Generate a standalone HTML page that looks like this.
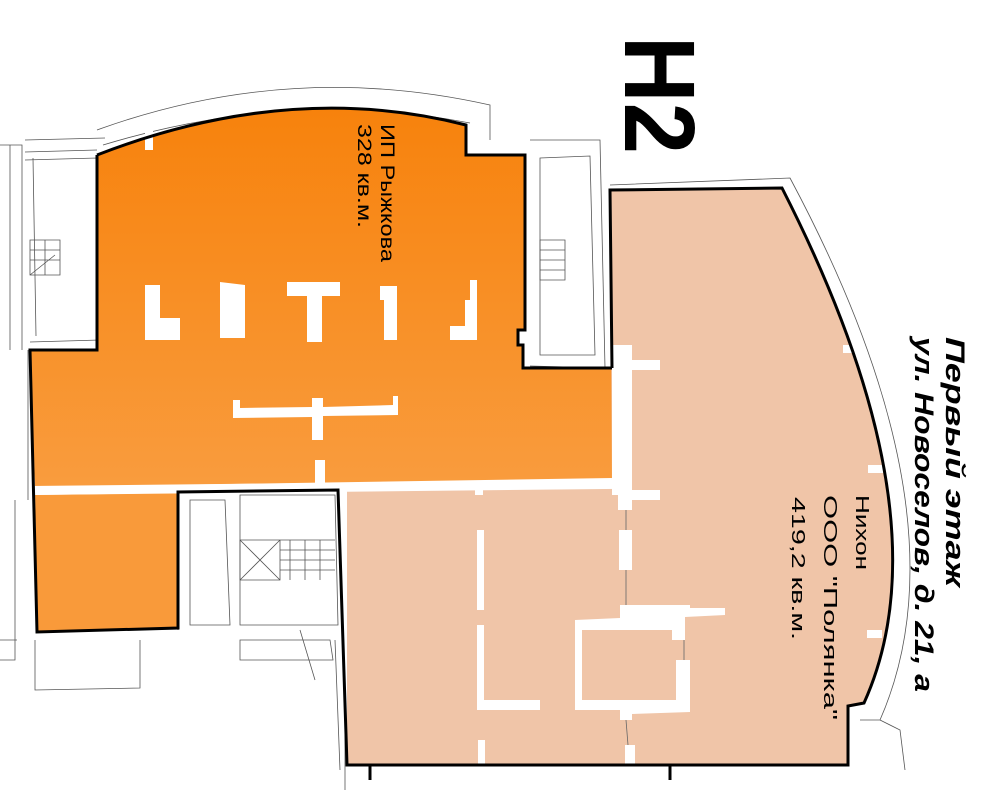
<!DOCTYPE html>
<html><head><meta charset="utf-8"><style>html,body{margin:0;padding:0;background:#fff}svg{display:block}</style></head>
<body>
<svg width="1000" height="800" viewBox="0 0 1000 800" xmlns="http://www.w3.org/2000/svg" font-family="'Liberation Sans', sans-serif">
<defs>
<linearGradient id="og" x1="0" y1="0" x2="0" y2="1"><stop offset="0" stop-color="#f7820c"/><stop offset="1" stop-color="#f99c3e"/></linearGradient>
</defs>
<g fill="none" stroke="#555" stroke-width="0.8">
<path d="M0 145 L22 145 L22 350 M10 145 L10 350"/>
<path d="M25 140 L105 138 M25 152 L97 150 M25 160 L97 158 L100 340 L30 342 M33 158 L36 336"/>
<path d="M97 130 Q290 60 490 105 L490 140 M103 145 Q290 88 470 123"/>
<path d="M530 140 L600 140 L605 368 L530 366 M540 158 L590 156 L595 355 L540 355 Z"/>
<path d="M610 185 L790 178 Q970 515 880 720 L860 720 M880 720 L900 730 L905 770"/>
<path d="M28 350 L28 500 M15 500 L15 660 L0 660 M0 640 L17 640 M35 640 L35 690 L140 688 L140 640"/>
<path d="M178 492 L178 630 M190 500 L225 500 L230 625 L190 625 Z M240 495 L335 495 L338 625 L240 625 Z"/>
<path d="M240 540 L280 540 L280 580 L240 580 Z M240 540 L280 580 M280 540 L240 580 M280 540 L335 540 M280 550 L335 550 M280 560 L335 560 M280 570 L335 570 M290 540 L290 580 M305 540 L305 580 M320 540 L320 580"/>
<path d="M240 640 L330 640 L333 660 L240 660 Z M300 630 L315 680 M335 640 L340 770 M345 720 L345 790"/>
<path d="M30 240 L60 240 L60 275 L30 275 Z M30 250 L60 250 M30 260 L60 260 M45 240 L45 275 M30 275 L55 255"/>
<path d="M540 240 L565 240 L565 280 L540 280 Z M540 250 L565 250 M540 260 L565 260 M540 270 L565 270"/>
</g>
<path d="M97 155 Q290 80 466 125 L466 155 L525 155 L525 330 L518 330 L518 345 L523 345 L523 368 L612 368 L612 478 L35 487 L30 350 L97 350 Z" fill="url(#og)"/>
<path d="M35 495 L178 493 L178 628 L38 632 Z" fill="#f99a3a"/>
<path d="M610 190 L782 188 Q949 515 864 703 L848 706 L848 765 L347 765 L347 490 L612 488 Z" fill="#f0c5a8"/>
<g fill="#fff">
<rect x="30" y="483" width="600" height="9" transform="rotate(-0.6 320 488)"/>
<rect x="612" y="345" width="20" height="150"/>
<rect x="315" y="460" width="10" height="25"/>
<rect x="145" y="128" width="8" height="22"/>
<path d="M145 285 L160 285 L160 318 L180 318 L180 340 L145 340 Z"/>
<path d="M220 282 L245 285 L245 338 L220 338 Z"/>
<path d="M287 282 L340 282 L340 296 L322 296 L322 342 L307 342 L307 296 L287 296 Z"/>
<path d="M380 286 L397 286 L397 340 L384 340 L384 300 L380 300 Z"/>
<path d="M470 280 L477 280 L477 340 L450 340 L450 326 L465 326 L465 300 L470 300 Z"/>
<path d="M233 400 L240 400 L240 408 L312 407 L312 398 L323 398 L323 407 L393 405 L393 396 L398 396 L398 415 L323 416 L323 440 L312 440 L312 417 L233 418 Z"/>
<path d="M618 350 L630 350 L630 360 L660 360 L660 370 L632 370 L632 470 L628 470 L628 490 L660 490 L660 500 L632 500 L632 510 L618 510 Z"/>
<rect x="475" y="485" width="8" height="10"/>
<rect x="477" y="530" width="7" height="80"/>
<path d="M477 625 L484 625 L484 700 L540 700 L540 710 L477 710 Z"/>
<rect x="478" y="740" width="7" height="25"/>
<rect x="619" y="530" width="13" height="40"/>
<path d="M575 620 L620 618 L620 605 L690 605 L690 608 L725 608 L725 615 L685 617 L685 640 L672 640 L672 630 L582 630 L582 700 L676 700 L676 660 L690 660 L690 712 L632 714 L632 720 L620 720 L620 710 L575 710 Z"/>
<rect x="625" y="745" width="10" height="20"/>
<rect x="843" y="345" width="15" height="8"/>
<rect x="868" y="465" width="15" height="8"/>
<rect x="867" y="630" width="15" height="8"/>
</g>
<g stroke="#666" stroke-width="0.8" fill="none">
<path d="M626 510 L626 530 M626 570 L626 605 M626 720 L628 745 M684 640 L684 660"/>
</g>
<g fill="none" stroke="#000" stroke-width="3">
<path d="M97 155 Q290 80 466 125 L466 155 L525 155 L525 330 L518 330 L518 345 L523 345 L523 368 L612 368"/>
<path d="M97 155 L97 350 L30 350 L37 632 L178 628 L178 492 L338 490 L347 765 L670 765 L670 780 M670 765 L848 765 L848 706 L864 703 Q949 515 782 188 L610 190 L612 368"/>
<path d="M347 765 L370 765 L370 780"/>
</g>
<g fill="#000">
<text transform="translate(625,36) rotate(90)" font-size="100" font-weight="bold" textLength="118" lengthAdjust="spacingAndGlyphs">H2</text>
<text transform="translate(946,337) rotate(90)" font-size="27" font-weight="bold" font-style="italic" textLength="250" lengthAdjust="spacingAndGlyphs">Первый этаж</text>
<text transform="translate(915,337) rotate(90)" font-size="27" font-weight="bold" font-style="italic" textLength="355" lengthAdjust="spacingAndGlyphs">ул. Новоселов, д. 21, а</text>
<text transform="translate(381,124) rotate(90)" font-size="19" textLength="138" lengthAdjust="spacingAndGlyphs">ИП Рыжкова</text>
<text transform="translate(358,124) rotate(90)" font-size="19" textLength="104" lengthAdjust="spacingAndGlyphs">328 кв.м.</text>
<text transform="translate(856,495) rotate(90)" font-size="18" textLength="75" lengthAdjust="spacingAndGlyphs">Нихон</text>
<text transform="translate(824,495) rotate(90)" font-size="18" textLength="225" lengthAdjust="spacingAndGlyphs">ООО "Полянка"</text>
<text transform="translate(792,497) rotate(90)" font-size="18" textLength="143" lengthAdjust="spacingAndGlyphs">419,2 кв.м.</text>
</g>
</svg>
</body></html>
